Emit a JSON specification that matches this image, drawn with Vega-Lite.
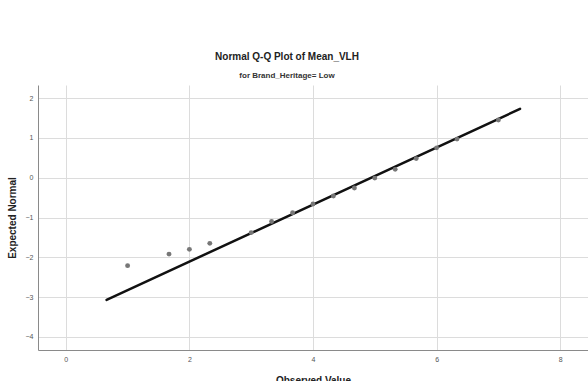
{
  "$schema": "https://vega.github.io/schema/vega-lite/v6.json",
  "autosize": {"type": "none"},
  "width": 550,
  "height": 265,
  "padding": {"left": 38, "top": 85, "right": 0, "bottom": 31},
  "background": "white",
  "title": {
    "text": "Normal Q-Q Plot of Mean_VLH",
    "subtitle": "for Brand_Heritage= Low",
    "anchor": "middle",
    "dx": -26,
    "font": "Liberation Sans",
    "fontSize": 10,
    "fontWeight": "bold",
    "color": "#222222",
    "subtitleFont": "Liberation Sans",
    "subtitleFontSize": 8,
    "subtitleFontWeight": "bold",
    "subtitleColor": "#333333",
    "subtitlePadding": 10,
    "offset": 5
  },
  "config": {
    "view": {"stroke": null},
    "axis": {
      "labelFont": "Liberation Sans",
      "labelFontSize": 7,
      "labelColor": "#555555",
      "titleFont": "Liberation Sans",
      "titleFontSize": 10,
      "titleFontWeight": "bold",
      "titleColor": "#222222",
      "gridColor": "#dcdcdc",
      "gridWidth": 1,
      "domainColor": "#8a8a8a",
      "domainWidth": 1,
      "ticks": false,
      "tickSize": 0,
      "labelPadding": 5
    }
  },
  "datasets": {
    "points": [
      {"observed": 1.0, "expected": -2.21},
      {"observed": 1.67, "expected": -1.92},
      {"observed": 2.0, "expected": -1.80},
      {"observed": 2.33, "expected": -1.65},
      {"observed": 3.0, "expected": -1.38},
      {"observed": 3.33, "expected": -1.10},
      {"observed": 3.67, "expected": -0.88},
      {"observed": 4.0, "expected": -0.66},
      {"observed": 4.33, "expected": -0.46},
      {"observed": 4.67, "expected": -0.26},
      {"observed": 5.0, "expected": -0.01},
      {"observed": 5.33, "expected": 0.21},
      {"observed": 5.67, "expected": 0.48},
      {"observed": 6.0, "expected": 0.75},
      {"observed": 6.33, "expected": 0.97},
      {"observed": 7.0, "expected": 1.45}
    ],
    "refline": [
      {"observed": 0.66, "expected": -3.07},
      {"observed": 7.35, "expected": 1.73}
    ]
  },
  "layer": [
    {
      "data": {"name": "refline"},
      "mark": {"type": "line", "color": "#111111", "strokeWidth": 2.5, "strokeCap": "round"},
      "encoding": {
        "x": {
          "field": "observed", "type": "quantitative",
          "scale": {"domain": [-0.45, 8.45], "nice": false, "zero": false},
          "axis": {
            "title": "Observed Value",
            "values": [0, 2, 4, 6, 8],
            "format": "d",
            "titleY": 25,
            "titleBaseline": "top"
          }
        },
        "y": {
          "field": "expected", "type": "quantitative",
          "scale": {"domain": [-4.33, 2.33], "nice": false, "zero": false},
          "axis": {
            "title": "Expected Normal",
            "values": [-4, -3, -2, -1, 0, 1, 2],
            "format": "d",
            "titleX": -26,
            "titleY": 132.5,
            "titleAngle": -90,
            "titleAlign": "center",
            "titleBaseline": "middle"
          }
        }
      }
    },
    {
      "data": {"name": "points"},
      "mark": {"type": "circle", "color": "#777777", "opacity": 1, "size": 24},
      "encoding": {
        "x": {"field": "observed", "type": "quantitative"},
        "y": {"field": "expected", "type": "quantitative"}
      }
    }
  ]
}
